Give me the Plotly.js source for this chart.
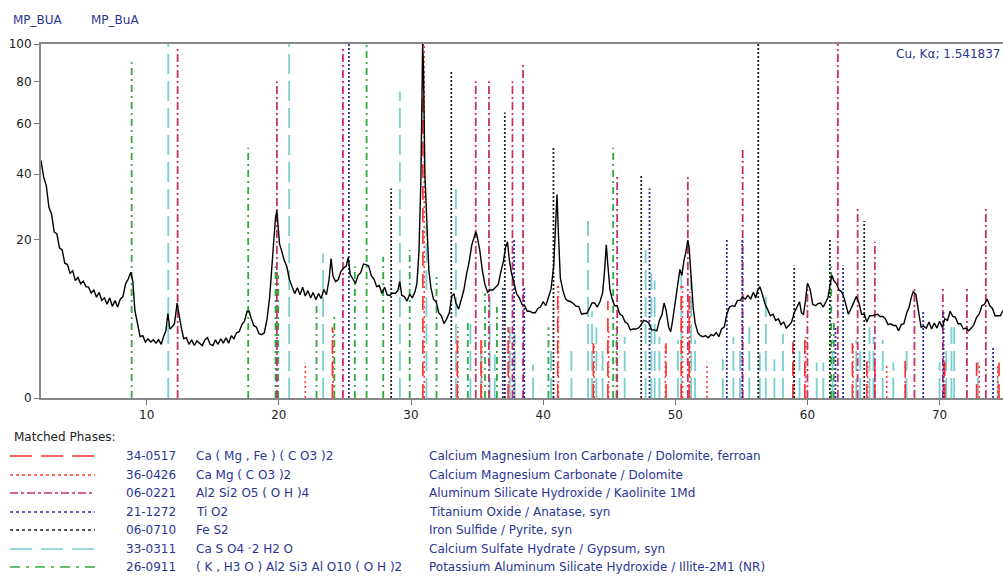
<!DOCTYPE html>
<html><head><meta charset="utf-8">
<script src="https://cdn.plot.ly/plotly-3.0.1.min.js"></script>
<style>body{margin:0;background:#fff}#chart{width:1003px;height:578px}</style>
</head><body><div id="chart"></div>
<script>
// ---- measured pattern (2theta, intensity %) ----
const twoTheta = [2.0,2.2,2.4,2.6,2.8,3.0,3.2,3.4,3.6,3.8,4.0,4.2,4.4,4.6,4.8,5.0,5.2,5.4,5.6,5.8,6.0,6.2,6.4,6.6,6.8,7.0,7.2,7.4,7.6,7.8,8.0,8.2,8.4,8.6,8.8,8.95,9.1,9.3,9.5,9.7,9.9,10.1,10.3,10.5,10.7,10.9,11.1,11.3,11.45,11.6,11.75,11.9,12.1,12.3,12.45,12.6,12.8,13.0,13.2,13.4,13.6,13.8,14.0,14.2,14.4,14.6,14.8,15.0,15.2,15.4,15.6,15.8,16.0,16.2,16.4,16.6,16.8,17.0,17.2,17.4,17.6,17.75,17.9,18.1,18.3,18.5,18.7,18.9,19.1,19.3,19.45,19.6,19.75,19.85,19.95,20.05,20.2,20.4,20.6,20.8,21.0,21.2,21.4,21.6,21.8,22.0,22.2,22.4,22.6,22.8,23.0,23.2,23.4,23.6,23.8,23.95,24.1,24.3,24.5,24.7,24.9,25.1,25.25,25.4,25.6,25.8,26.0,26.2,26.4,26.6,26.8,27.0,27.2,27.4,27.6,27.8,28.0,28.2,28.4,28.6,28.8,29.0,29.15,29.3,29.5,29.7,29.9,30.1,30.3,30.45,30.6,30.75,30.88,30.95,31.05,31.2,31.35,31.5,31.7,31.9,32.1,32.3,32.5,32.7,32.9,33.1,33.25,33.4,33.6,33.8,34.0,34.2,34.4,34.6,34.8,34.9,35.0,35.2,35.4,35.6,35.8,36.0,36.2,36.4,36.6,36.8,37.0,37.15,37.3,37.45,37.6,37.8,38.0,38.2,38.4,38.6,38.8,39.0,39.2,39.4,39.6,39.8,40.0,40.2,40.4,40.6,40.8,40.95,41.05,41.15,41.3,41.5,41.7,41.9,42.1,42.3,42.5,42.7,42.9,43.1,43.3,43.5,43.7,43.9,44.1,44.3,44.5,44.65,44.78,44.9,45.05,45.2,45.4,45.6,45.8,46.0,46.2,46.4,46.6,46.8,47.0,47.2,47.4,47.6,47.8,48.0,48.2,48.4,48.6,48.8,49.0,49.15,49.3,49.5,49.65,49.8,50.0,50.2,50.35,50.5,50.65,50.8,50.95,51.05,51.2,51.35,51.5,51.7,51.9,52.1,52.3,52.5,52.7,52.9,53.1,53.3,53.5,53.7,53.9,54.1,54.3,54.5,54.7,54.9,55.1,55.3,55.5,55.7,55.9,56.1,56.2,56.4,56.6,56.8,57.0,57.2,57.4,57.6,57.8,58.0,58.2,58.4,58.6,58.8,59.0,59.2,59.4,59.55,59.7,59.85,60.0,60.2,60.4,60.6,60.8,61.0,61.2,61.4,61.55,61.7,61.85,62.0,62.2,62.4,62.6,62.8,62.95,63.1,63.3,63.5,63.7,63.9,64.1,64.3,64.5,64.7,64.9,65.1,65.3,65.5,65.7,65.9,66.1,66.3,66.5,66.7,66.9,67.1,67.3,67.5,67.7,67.85,68.0,68.2,68.4,68.6,68.8,69.0,69.2,69.4,69.6,69.8,70.0,70.2,70.4,70.6,70.8,71.0,71.2,71.4,71.6,71.8,72.0,72.2,72.4,72.6,72.8,73.0,73.2,73.4,73.6,73.8,74.0,74.2,74.4,74.6,74.8];
const intensity = [45,39,36,29,27,22,21.5,18,17.5,14.5,14.2,12.4,12.9,11.0,11.6,10.4,10.9,9.9,9.8,8.8,9.3,8.1,8.9,7.6,8.0,7.0,8.0,6.7,7.6,6.6,7.8,8.2,10.4,11.3,12.6,10.8,6.2,4.2,3.0,3.1,2.5,2.8,2.5,2.7,2.4,2.7,2.3,3.1,3.6,5.7,3.8,4.0,4.4,7.2,5.3,4.1,2.8,2.9,2.3,2.7,2.2,2.6,2.4,2.2,2.7,2.9,2.3,2.2,2.7,2.3,2.8,2.4,2.9,2.4,3.1,2.8,3.4,3.5,4.3,4.7,6.0,6.0,5.1,4.2,4.0,3.3,3.2,3.4,4.9,8.0,13,20,26,28,24,19,17.4,15.2,13.8,11.2,9.9,8.7,9.7,8.5,9.8,8.3,9.2,8.0,8.9,7.7,8.7,7.9,9.4,8.5,11.2,15.5,11.8,10.8,11.2,12.8,13.5,13.9,15.8,12.2,11.3,10.5,12.0,12.6,14.3,14.2,13.9,11.9,11.3,9.9,10.1,8.7,9.8,8.5,8.4,8.8,8.7,9.2,10.8,8.4,8.2,7.5,8.6,8.0,9.0,10.5,17,38,100,85,40,22,13,9.8,7.8,7.4,5.8,5.4,4.4,5.0,5.8,8.4,8.6,7.2,6.3,7.7,9.3,12.2,14.8,18.7,21.3,22,21,17.5,13,10.2,8.9,9.3,9.3,9.8,10.3,12.7,15,18,19.5,15,12.5,10.5,8.6,8.0,7.0,6.8,6.0,6.0,5.8,5.8,6.4,6.6,7.4,6.8,8.0,9.5,14,26,33,22,11.5,9.2,7.8,7.5,7.4,7.1,6.7,6.7,5.6,5.7,5.7,6.4,7.2,7.2,6.6,7.4,8.8,13,18.7,14,9.5,8.0,6.8,6.8,5.6,5.4,4.6,4.4,3.7,3.8,3.8,3.9,4.2,4.8,4.7,4.5,3.7,3.7,3.6,4.8,5.6,7.2,6.2,4.0,3.5,4.8,7.5,11,13.2,12,15,17,19.9,18,11,6.6,4.5,3.4,3.1,3.0,3.1,2.9,3.2,3.1,3.4,3.0,3.8,4.0,5.6,6.6,6.8,6.7,7.6,7.6,8.1,7.8,8.4,7.8,8.9,8.0,9.0,9.9,8.5,7.0,6.2,5.4,5.6,4.8,5.0,4.3,4.6,3.9,4.2,4.6,5.8,6.6,7.4,5.8,5.6,7.5,10.5,9.5,7.0,6.8,7.1,7.2,6.6,7.4,8.0,10,12,11,10.4,9.3,9.0,7.8,6.7,5.6,6.4,7.2,8.2,7.2,5.6,5.6,4.6,5.4,5.4,5.5,5.6,5.3,5.3,5.0,4.3,4.4,4.2,4.2,3.6,4.3,4.4,5.7,6.6,8.0,9.0,8.6,6.0,4.0,4.1,3.9,4.6,3.8,4.5,3.9,4.7,4.0,5.0,4.8,6.0,5.3,5.2,4.4,4.4,3.8,3.9,3.6,3.9,4.3,5.2,5.6,6.8,7.0,7.8,6.8,6.4,5.4,5.4,5.4,6.1,5.2,6.0];

// ---- matched phases ----
const phaseCodes = ["34-0517","36-0426","06-0221","21-1272","06-0710","33-0311","26-0911"];
const phaseFormulas = ["Ca ( Mg , Fe ) ( C O3 )2","Ca Mg ( C O3 )2","Al2 Si2 O5 ( O H )4","Ti O2","Fe S2","Ca S O4 ·2 H2 O","( K , H3 O ) Al2 Si3 Al O10 ( O H )2"];
const phaseNames = ["Calcium Magnesium Iron Carbonate / Dolomite, ferroan","Calcium Magnesium Carbonate / Dolomite","Aluminum Silicate Hydroxide / Kaolinite 1Md","Titanium Oxide / Anatase, syn","Iron Sulfide / Pyrite, syn","Calcium Sulfate Hydrate / Gypsum, syn","Potassium Aluminum Silicate Hydroxide / Illite-2M1 (NR)"];

const dolFePos = [24.05,30.9,33.5,35.3,37.35,41.1,43.8,44.9,49.3,50.45,51.05,58.9,59.8,63.4,64.5,65.1,67.4,70.4,72.8,74.5];
const dolFeInt = [4,100,3,2.8,4,10,2.4,7.5,2.4,10,9,2.5,3,2.4,1.5,1.2,1.2,1.5,1,1];
const dolPos = [22.0,24.1,31.0,33.55,35.35,37.4,41.15,43.85,44.95,49.25,50.55,51.1,52.4,58.95,59.85,63.45,64.55,66.0,67.4,70.3,73.0,74.4];
const dolInt = [1,3.9,100,4,2.8,4,10,2.4,4,2.4,10,9,1,2,3,2.4,1.1,0.9,1.2,1,1,0.8];
const kaoPos = [12.34,19.85,24.85,34.9,35.9,37.68,38.48,45.6,50.95,55.1,60.0,62.3,63.8,65.1,68.1,70.25,72.07,73.5];
const kaoInt = [98,80,98,80,80,80,90,40,40,50,9.9,100,28.7,19.5,9.9,9.9,9.9,28.7];
const anaPos = [25.3,36.95,37.8,38.57,48.05,53.9,55.07,62.12,62.7,68.76,70.3,74.05];
const anaInt = [100,10,20,10,35,20,20,4,14,6,6,2];
const pyrPos = [28.5,33.05,37.1,40.78,47.42,56.28,59.0,61.7,64.3];
const pyrInt = [35,85,65,50,40,100,14,20,25];
const gypPos = [11.63,20.78,23.35,29.16,31.17,33.4,34.5,35.3,35.96,36.34,37.48,37.85,39.24,40.6,42.14,43.4,43.7,44.03,44.5,46.17,47.76,48.19,48.44,48.8,50.2,50.46,51.2,51.5,53.6,54.4,54.9,55.6,56.4,56.85,57.5,58.15,59.4,60.7,61.2,61.9,63.7,64.0,64.7,65.0,65.7,66.5,67.5,70.0,70.5,70.9,71.1,72.9,74.4];
const gypInt = [100,100,16.7,75,24,35,5,1.8,9.9,1.5,4,3.3,0.9,2,1.8,25,6,4,2,3,17.5,12.4,11,3,2.7,13,11.7,2.7,1.2,3,1.8,4,1.6,8.5,1.2,3.3,1.8,1,1,2.7,2.7,1.8,4,3,2.7,1,1.8,1,1.8,4,4,1,0.8];
const illPos = [8.86,17.68,19.75,19.85,19.95,22.85,24.2,25.75,26.64,27.9,29.9,31.93,34.3,35.6,36.5,40.4,45.3,45.55,61.8,62.0];
const illInt = [90,50,13.8,13.8,12,7.2,5.3,13.8,100,15.9,17.5,11.7,5,8.75,6.6,4,50,4,13.8,5];

const yTickVals = [0,20,40,60,80,100];
const xTickVals = [10,20,30,40,50,60,70];

// ---- styles ----
const phaseStyles = [
  {color:"#ff2b2b", dash:"14px,8px", legDash:"22px,9px", width:1.6},
  {color:"#ff3b3b", dash:"2px,3px", legDash:"3px,3px", width:1.6},
  {color:"#c8306c", dash:"8px,3px,2px,3px", legDash:"8px,3px,3px,3px", width:1.8},
  {color:"#2f2fa0", dash:"2px,2px", legDash:"3px,3px", width:1.8},
  {color:"#222222", dash:"2px,2px", legDash:"3px,3px", width:1.8},
  {color:"#78d0d0", dash:"20px,7px", legDash:"22px,9px", width:1.8},
  {color:"#2eaa3e", dash:"7px,4px,2px,4px", legDash:"10px,6px,3px,6px", width:1.8}
];
const stickData = [[dolFePos,dolFeInt],[dolPos,dolInt],[kaoPos,kaoInt],[anaPos,anaInt],[pyrPos,pyrInt],[gypPos,gypInt],[illPos,illInt]];

function sticks(pos, ints){
  const x=[], y=[];
  pos.forEach((p,i)=>{ x.push(p,p,null); y.push(0, Math.sqrt(ints[i]), null); });
  return {x,y};
}

const traces = [];
[5,6,0,1,2,3,4].forEach(k=>{
  const s = sticks(stickData[k][0], stickData[k][1]);
  traces.push({type:"scatter", mode:"lines", x:s.x, y:s.y, hoverinfo:"skip",
    line:{color:phaseStyles[k].color, dash:phaseStyles[k].dash, width:phaseStyles[k].width}, showlegend:false});
});
traces.push({type:"scatter", mode:"lines", x:twoTheta, y:intensity.map(v=>Math.sqrt(v)),
  line:{color:"#000", width:1.4}, showlegend:false});

// ---- layout helpers (pixel -> paper) ----
const L=41, T=44, W=962, H=354;
const px = v => (v-L)/W;
const py = v => (T+H-v)/H;
const blue = "#2b3594";
const annotations = [
  {text:"MP_BUA", x:px(11), y:py(20), xref:"paper", yref:"paper", xanchor:"left", yanchor:"middle", showarrow:false, font:{color:blue,size:12}},
  {text:"MP_BuA", x:px(89), y:py(20), xref:"paper", yref:"paper", xanchor:"left", yanchor:"middle", showarrow:false, font:{color:blue,size:12}},
  {text:"Cu, Kα; 1.541837", x:px(894), y:py(54), xref:"paper", yref:"paper", xanchor:"left", yanchor:"middle", showarrow:false, font:{color:blue,size:12}},
  {text:"Matched Phases:", x:px(12), y:py(437), xref:"paper", yref:"paper", xanchor:"left", yanchor:"middle", showarrow:false, font:{color:"#222",size:12}}
];
const rowY = [456,475,493,512,530,549,567];
const shapes = [];
phaseCodes.forEach((c,i)=>{
  annotations.push({text:c, x:px(124), y:py(rowY[i]), xref:"paper", yref:"paper", xanchor:"left", yanchor:"middle", showarrow:false, font:{color:blue,size:12}});
  annotations.push({text:phaseFormulas[i], x:px(194), y:py(rowY[i]), xref:"paper", yref:"paper", xanchor:"left", yanchor:"middle", showarrow:false, font:{color:blue,size:12}});
  annotations.push({text:phaseNames[i], x:px(427), y:py(rowY[i]), xref:"paper", yref:"paper", xanchor:"left", yanchor:"middle", showarrow:false, font:{color:blue,size:12}});
  shapes.push({type:"line", xref:"paper", yref:"paper", x0:px(10), x1:px(95), y0:py(rowY[i]), y1:py(rowY[i]),
    line:{color:phaseStyles[i].color, dash:phaseStyles[i].legDash, width:1.6}});
});

const layout = {
  width:1003, height:578,
  margin:{l:L, r:0, t:T, b:578-T-H, pad:0},
  paper_bgcolor:"#fff", plot_bgcolor:"#fff",
  font:{family:"DejaVu Sans, Verdana, sans-serif", size:12, color:"#222"},
  showlegend:false,
  xaxis:{range:[2,74.8], tickvals:xTickVals, ticks:"outside", ticklen:5, tickcolor:"#777",
    showline:true, linecolor:"#888", linewidth:2, mirror:true, showgrid:false, zeroline:false,
    tickfont:{size:12,color:"#222"}},
  yaxis:{range:[0,10], tickvals:yTickVals.map(v=>Math.sqrt(v)), ticktext:yTickVals.map(String),
    ticks:"outside", ticklen:5, tickcolor:"#777", showline:true, linecolor:"#888", linewidth:2,
    showgrid:false, zeroline:false, tickfont:{size:12,color:"#222"}},
  annotations, shapes
};
Plotly.newPlot("chart", traces, layout, {staticPlot:true, displayModeBar:false});
</script></body></html>
